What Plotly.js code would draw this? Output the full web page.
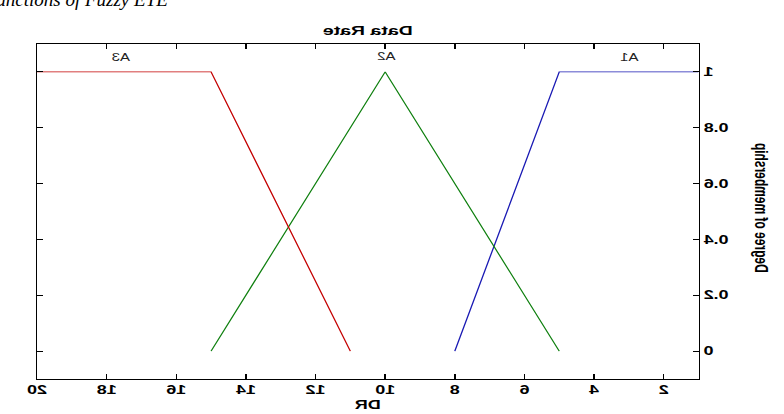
<!DOCTYPE html>
<html>
<head>
<meta charset="utf-8">
<script src="https://cdn.plot.ly/plotly-3.0.1.min.js"></script>
<style>
  html, body { margin:0; padding:0; background:#fff; }
  #wrap { position:relative; width:784px; height:414px; overflow:hidden; background:#fff; }
  #plot { position:absolute; left:0; top:0; width:523px; height:414px;
          transform-origin:0 0; transform:translateX(784px) scaleX(-1.5); }
  #cap { position:absolute; left:-9px; top:-10px; font:italic 19px 'Liberation Serif', serif;
         white-space:nowrap; color:#000; line-height:19px; }
</style>
</head>
<body>
<div id="wrap">
  <div id="plot"></div>
  <div id="cap">functions of Fuzzy ETE</div>
</div>
<script>
// ---- data ----
const xTickVals = [2, 4, 6, 8, 10, 12, 14, 16, 18, 20];
const yTickVals = [0, 0.2, 0.4, 0.6, 0.8, 1];
const yTickText = ['0', '0.2', '0.4', '0.6', '0.8', '1'];
const a1X = [1, 5, 8];    const a1Y = [1, 1, 0];
const a2X = [5, 10, 15];  const a2Y = [0, 1, 0];
const a3X = [11, 15, 20]; const a3Y = [0, 1, 1];
const setNames = ['A1', 'A2', 'A3'];
const labelX = [3, 10, 17.6];
const labelY = [1.05, 1.055, 1.05];
const colors = ['#1a1ab4', '#108010', '#c40000'];
const yTitle = 'Degree of membership';

const xs = [a1X, a2X, a3X], ys = [a1Y, a2Y, a3Y];
const traces = xs.map((x, i) => ({
  x: x, y: ys[i], type: 'scatter', mode: 'lines',
  line: { color: colors[i], width: 0.9 }, hoverinfo: 'skip', showlegend: false
}));

const annotations = setNames.map((n, i) => ({
  x: labelX[i], y: labelY[i], xref: 'x', yref: 'y', text: n, showarrow: false,
  font: { family: 'Liberation Sans, Arial', size: 10, color: '#222' },
  xanchor: 'center', yanchor: 'middle'
}));
annotations.push({
  x: (15.3 - 56.7) / 441.6, y: 0.51, xref: 'paper', yref: 'paper', text: yTitle,
  showarrow: false, textangle: -90, xanchor: 'center', yanchor: 'middle',
  font: { family: 'Liberation Sans, Arial', size: 12, color: '#000', weight: 'bold' }
});

const tickFont = { family: 'Liberation Sans, Arial', size: 12, color: '#000', weight: 'bold' };

const layout = {
  width: 523, height: 414,
  margin: { l: 56.7, r: 24.7, t: 44, b: 35 },
  paper_bgcolor: '#fff', plot_bgcolor: '#fff',
  title: { text: 'Data Rate', x: 0.5, xref: 'paper', y: 1 - 30 / 414, yref: 'container',
           xanchor: 'center', yanchor: 'middle',
           font: { family: 'Liberation Sans, Arial', size: 13, color: '#000', weight: 'bold' } },
  xaxis: {
    range: [1, 20], tickvals: xTickVals, ticktext: xTickVals.map(String),
    ticks: 'inside', ticklen: 5, tickwidth: 1, tickcolor: '#000',
    showline: true, linecolor: '#000', linewidth: 1, mirror: 'ticks',
    showgrid: false, zeroline: false, tickfont: tickFont,
    title: { text: 'DR', standoff: 4, font: { family: 'Liberation Sans, Arial', size: 12, color: '#000', weight: 'bold' } }
  },
  yaxis: {
    range: [-0.1, 1.1], tickvals: yTickVals, ticktext: yTickText,
    ticks: 'inside', ticklen: 4, tickwidth: 1, tickcolor: '#000',
    showline: true, linecolor: '#000', linewidth: 1, mirror: 'ticks',
    showgrid: false, zeroline: false, tickfont: tickFont
  },
  annotations: annotations
};

Plotly.newPlot('plot', traces, layout, { staticPlot: true, displayModeBar: false });
</script>
</body>
</html>
